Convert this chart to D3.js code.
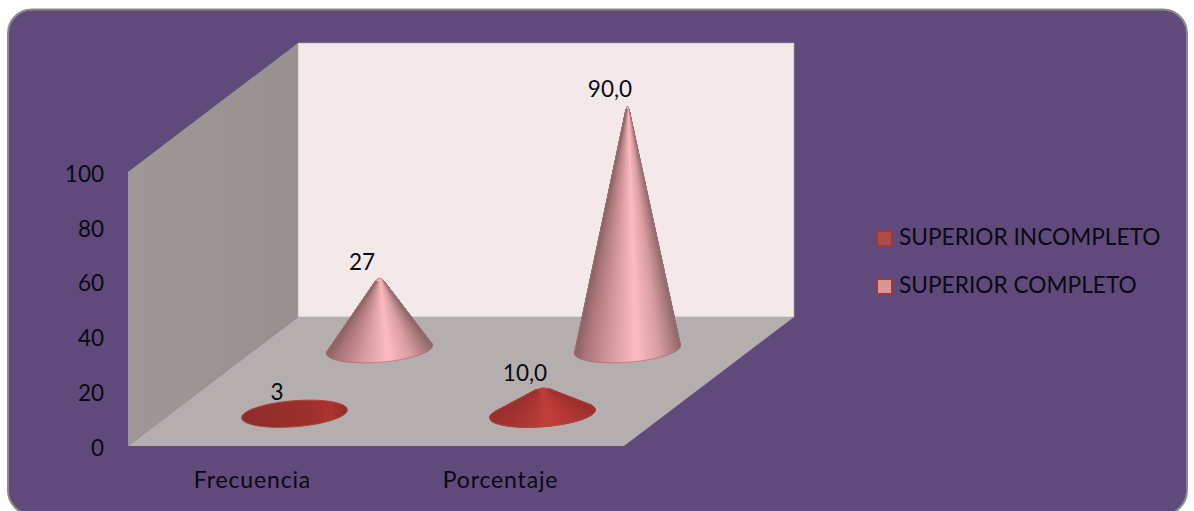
<!DOCTYPE html>
<html>
<head>
<meta charset="utf-8">
<title>Nivel de instrucción</title>
<script src="https://cdn.jsdelivr.net/npm/d3@7"></script>
<style>
  html, body { margin: 0; padding: 0; background: #fff; }
  svg { display: block; }
  text { font-family: Lato, "Open Sans", sans-serif; fill: #0a0810; }
</style>
</head>
<body>
<svg id="chart" width="1194" height="511"></svg>
<script>
// Chart data
const categories = ["Frecuencia", "Porcentaje"];
const seriesNames = ["SUPERIOR INCOMPLETO", "SUPERIOR COMPLETO"];
const incompleto = [3, 10.0];
const completo = [27, 90.0];
const valueLabels = [["3", "10,0"], ["27", "90,0"]];
const yTicks = [0, 20, 40, 60, 80, 100];

const seriesValues = [incompleto, completo];

const svg = d3.select("#chart");
const defs = svg.append("defs");

const wallGrad = defs.append("linearGradient").attr("id", "sideWall")
  .attr("x1", 0).attr("x2", 1).attr("y1", 0).attr("y2", 0);
wallGrad.append("stop").attr("offset", 0).attr("stop-color", "#a09896");
wallGrad.append("stop").attr("offset", 1).attr("stop-color", "#979090");

// Rounded outer panel
svg.append("rect")
  .attr("x", 8).attr("y", 9.5).attr("width", 1179).attr("height", 505).attr("rx", 24)
  .attr("fill", "#604a7b").attr("stroke", "#8c8a8c").attr("stroke-width", 2);

// Oblique 3D frame: a front plane spanned by the scales, plus one depth vector
const x = d3.scaleBand().domain(categories).range([128, 624]);
const y = d3.scaleLinear().domain([0, 100]).range([446, 172]);
const depth = d3.scaleBand().domain(seriesNames).range([0, 1]);
const depthDX = 170, depthDY = -129;

const project = (px, py, d) => [px + d * depthDX, py + d * depthDY];
const line = d3.line();

const xMin = x.range()[0], xMax = x.range()[1];
const y0 = y(0), y100 = y(100);

// Side wall
svg.append("path")
  .attr("d", line([project(xMin, y0, 0), project(xMin, y100, 0), project(xMin, y100, 1), project(xMin, y0, 1)]) + "Z")
  .attr("fill", "url(#sideWall)");
// Back wall
svg.append("path")
  .attr("d", line([project(xMin, y0, 1), project(xMin, y100, 1), project(xMax, y100, 1), project(xMax, y0, 1)]) + "Z")
  .attr("fill", "#f3e9e9").attr("stroke", "#b9aab8").attr("stroke-width", 0.6);
// Floor
svg.append("path")
  .attr("d", line([project(xMin, y0, 0), project(xMin, y0, 1), project(xMax, y0, 1), project(xMax, y0, 0)]) + "Z")
  .attr("fill", "#b4aeae");

// Axes
const yAxis = svg.append("g")
  .attr("transform", "translate(110,2)")
  .call(d3.axisLeft(y).tickValues(yTicks).tickSize(0).tickPadding(6));
yAxis.select(".domain").remove();
yAxis.selectAll("text").attr("font-size", 22.5).style("font-family", null);

const xAxis = svg.append("g")
  .attr("transform", `translate(0.5,${y0 + 25.5})`)
  .call(d3.axisBottom(x).tickSize(0).tickPadding(0));
xAxis.select(".domain").remove();
xAxis.selectAll("text").attr("font-size", 23).attr("letter-spacing", 0.85).style("font-family", null);

// Cones: shaded wedges fanning from the apex to the front arc of a tilted base ellipse
const baseRx = 53, baseRy = 13, baseTilt = -4.5 * Math.PI / 180;
const cosT = Math.cos(baseTilt), sinT = Math.sin(baseTilt);
const toWorld = (cx, cy, lx, ly) => [cx + lx * cosT - ly * sinT, cy + lx * sinT + ly * cosT];

// Brightness runs across the cone surface, with the highlight right of centre
const lightShade = d3.scaleLinear()
  .domain([0, 0.08, 0.3, 0.58, 0.8, 0.94, 1])
  .range(["#8d6467", "#a87478", "#d0959a", "#fdbcc0", "#d99da1", "#a87a7d", "#8c686a"]);
const darkShade = d3.scaleLinear()
  .domain([0, 0.3, 0.55, 0.8, 1])
  .range(["#9a322f", "#aa3634", "#c03f3b", "#b33734", "#9c302d"]);
const discShade = d3.scaleLinear()
  .domain([0, 0.6, 0.85, 1])
  .range(["#8e2d2a", "#9c2f2c", "#ae3230", "#8e2d2a"]);

// Arc angles of the visible base, between the two tangent points seen from the apex
function visibleArc(cx, cy, apexY) {
  const ratio = baseRx / baseRy;
  const dy = apexY - cy;
  const ax = dy * sinT;
  const ay = dy * cosT * ratio;
  const dist = Math.hypot(ax, ay);
  if (dist <= baseRx) return null;
  const base = Math.atan2(ay, ax), spread = Math.acos(baseRx / dist);
  return [base + spread, base + 2 * Math.PI - spread];
}
const arcPoint = (m, a) => toWorld(m.cx, m.cy, baseRx * Math.cos(a), baseRy * Math.sin(a));

const marks = [];
seriesNames.forEach((name, s) => {
  categories.forEach((cat, c) => {
    const d = depth(name) + depth.bandwidth() / 2;
    const [cx, cy] = project(x(cat) + x.bandwidth() / 2, y0, d);
    const apexY = cy - (y0 - y(seriesValues[s][c]));
    marks.push({ s, c, d, cx, cy, apexY, value: seriesValues[s][c], label: valueLabels[s][c] });
  });
});

// Softens the very tip: each edge stops short of the apex and curves across it
function roundedTip(m, pt) {
  const len = Math.hypot(pt[0] - m.cx, pt[1] - m.apexY);
  const t = Math.min(7 / len, 0.3);
  return [m.cx + (pt[0] - m.cx) * t, m.apexY + (pt[1] - m.apexY) * t];
}

const coneLayer = svg.append("g");
marks.slice().sort((a, b) => b.d - a.d).forEach(m => {
  const group = coneLayer.append("g");
  const arc = visibleArc(m.cx, m.cy, m.apexY);
  if (!arc) {
    // The apex stays inside the base outline, so only the ellipse shows
    const ring = d3.range(60).map(i => arcPoint(m, i / 60 * 2 * Math.PI));
    const gradId = `disc-${m.s}-${m.c}`;
    const grad = defs.append("linearGradient").attr("id", gradId);
    discShade.domain().forEach(o => grad.append("stop").attr("offset", o).attr("stop-color", discShade(o)));
    group.append("path").attr("d", line(ring) + "Z")
      .attr("fill", `url(#${gradId})`).attr("stroke", "#a8423f").attr("stroke-width", 1);
    return;
  }
  const shade = m.s === 1 ? lightShade : darkShade;
  const n = 60;
  const frontArc = d3.range(n + 1).map(i => arcPoint(m, arc[0] + (arc[1] - arc[0]) * i / n));
  const tip = [m.cx, m.apexY];
  const left = d3.min(frontArc, p => p[0]), right = d3.max(frontArc, p => p[0]);
  const ta = roundedTip(m, frontArc[0]), tb = roundedTip(m, frontArc[n]);
  const silhouette = `M${ta}Q${tip},${tb}L${frontArc.slice().reverse().join("L")}Z`;

  // Mid-tone silhouette under the wedges
  group.append("path").attr("d", silhouette).attr("fill", shade(0.5));
  group.selectAll("path.wedge").data(d3.pairs(frontArc)).join("path")
    .attr("class", "wedge")
    .attr("d", ([p, q]) => line([roundedTip(m, p), p, q, roundedTip(m, q)]) + "Z")
    .each(function([p, q]) {
      const u = ((p[0] + q[0]) / 2 - left) / (right - left);
      d3.select(this).attr("fill", shade(u)).attr("stroke", shade(u)).attr("stroke-width", 1);
    });
  group.append("path").attr("d", silhouette).attr("fill", "none")
    .attr("stroke", m.s === 1 ? "#a87076" : "#b04a48").attr("stroke-width", 0.9)
    .attr("stroke-linejoin", "round").attr("stroke-opacity", 0.85);
});

// Value labels sit just above and to the left of each apex
svg.append("g").selectAll("text").data(marks).join("text")
  .attr("x", m => m.cx - 17.5)
  .attr("y", m => m.apexY - 5.5)
  .attr("text-anchor", "middle")
  .attr("font-size", 22.5)
  .text(m => m.label);

// Legend
const legendY = d3.scalePoint().domain(seriesNames).range([238.5, 286.5]);
const legendFill = d3.scaleOrdinal().domain(seriesNames).range(["#ae4a48", "#d99694"]);
const legend = svg.append("g").selectAll("g").data(seriesNames).join("g")
  .attr("transform", n => `translate(0,${legendY(n)})`);
legend.append("rect")
  .attr("x", 877).attr("y", -7.5).attr("width", 15).attr("height", 15)
  .attr("fill", n => legendFill(n)).attr("stroke", "#973a38").attr("stroke-width", 2);
legend.append("text")
  .attr("x", 899).attr("y", 6.5)
  .attr("font-size", 22.7)
  .text(n => n);
</script>
</body>
</html>
